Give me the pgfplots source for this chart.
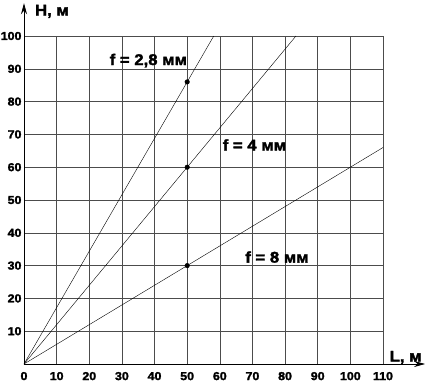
\documentclass[border=0pt]{standalone}
\usepackage{fontspec}
\setmainfont{Liberation Sans}
\newfontfamily\heavy[FakeBold=2, FakeStretch=1.08]{Liberation Sans}
\usepackage{pgfplots}
\usetikzlibrary{arrows.meta}
\pgfplotsset{compat=1.18}
\begin{document}
\begin{tikzpicture}
\begin{axis}[
  name=ax, at={(0,0)}, anchor=south west,
  scale only axis, width=359pt, height=328pt,
  xmin=0, xmax=110, ymin=0, ymax=100,
  axis line style={draw=none},
  xtick={0,10,...,110}, ytick={10,20,...,100},
  major tick length=0pt,
  grid=major,
  grid style={draw=black!70, line width=0.6pt},
  /pgf/number format/assume math mode=true,
  tick label style={font=\heavy\bfseries\fontsize{11.5}{11.5}\selectfont},
  xticklabel style={yshift=-4.5pt},
  yticklabel style={xshift=1pt},
  clip=false,
]
\draw[-{Stealth[length=11pt,width=6pt]}, line width=0.8pt] (axis cs:0,0) -- (axis cs:122.9,0);
\draw[-{Stealth[length=11pt,width=6pt]}, line width=0.8pt] (axis cs:0,0) -- (axis cs:0,110);
\addplot[black, line width=0.4pt] coordinates {(0,0) (58.14,100)};
\addplot[black, line width=0.4pt] coordinates {(0,0) (83.33,100)};
\addplot[black, line width=0.4pt] coordinates {(0,0) (110,66)};
\addplot[only marks, mark=*, mark size=2.3pt, black] coordinates {(50,86) (50,60) (50,30)};
\node[font=\heavy\bfseries\fontsize{15.5}{15.5}\selectfont] at (axis cs:38.1,92.5) {f = 2,8 мм};
\node[font=\heavy\bfseries\fontsize{15.5}{15.5}\selectfont] at (axis cs:70.6,66.8) {f = 4 мм};
\node[font=\heavy\bfseries\fontsize{15.5}{15.5}\selectfont] at (axis cs:77.5,32.6) {f = 8 мм};
\node[font=\heavy\bfseries\fontsize{15.5}{15.5}\selectfont, anchor=west] at (axis cs:2.3,107.5) {H, м};
\node[font=\heavy\bfseries\fontsize{15.5}{15.5}\selectfont, anchor=east] at (axis cs:122.9,2) {L, м};
\end{axis}
\pgfresetboundingbox
\path[use as bounding box] (-24pt,-20pt) rectangle (401pt,364pt);
\end{tikzpicture}
\end{document}
